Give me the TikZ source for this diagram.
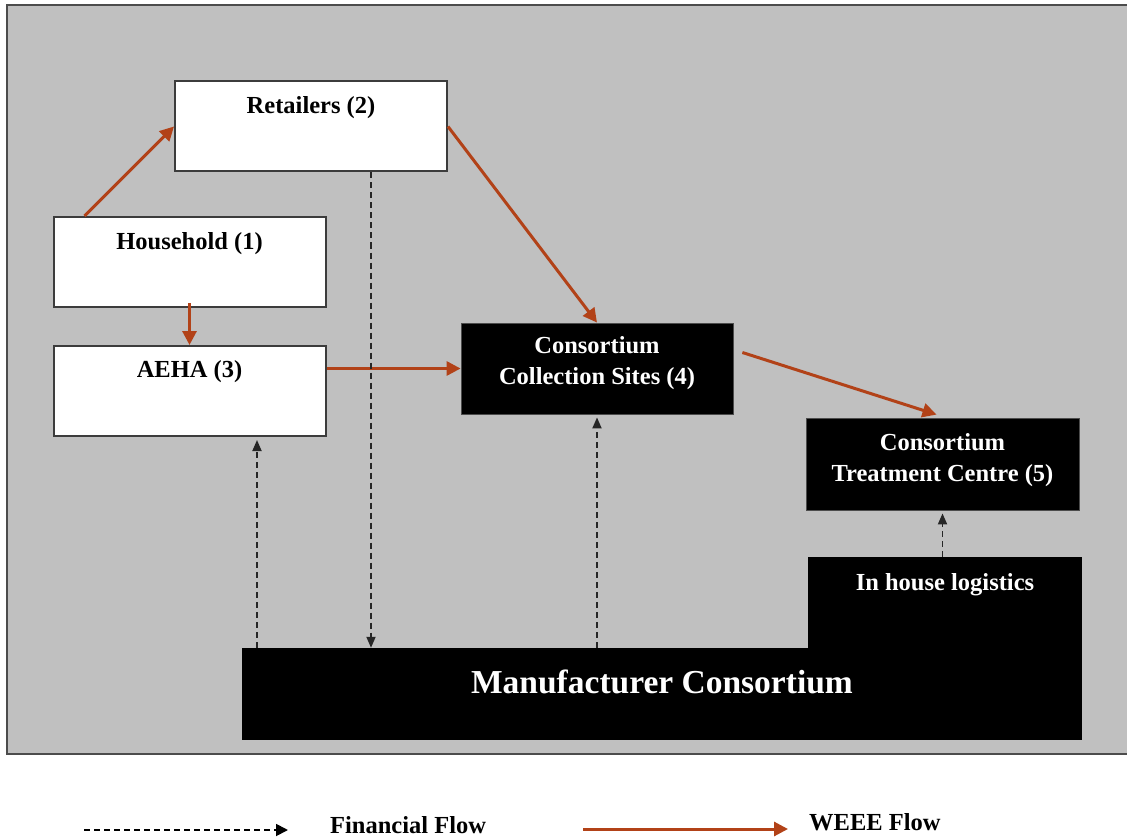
\documentclass[tikz,border=0pt]{standalone}
\usepackage{fontspec}
\setmainfont{Liberation Serif}
\usetikzlibrary{arrows.meta}
\definecolor{weee}{RGB}{178,66,24}
\definecolor{panel}{RGB}{192,192,192}
\definecolor{edge}{RGB}{60,60,60}
\begin{document}
\begin{tikzpicture}[x=1pt,y=-1pt,
  txt/.style={font=\fontsize{24.5}{31}\selectfont\bfseries, inner sep=0pt, align=center},
  bigtxt/.style={font=\fontsize{33.5}{40}\selectfont\bfseries, inner sep=0pt, text=white},
  wbox/.style={draw=edge, line width=2pt, fill=white, minimum width=272pt, minimum height=90pt, inner sep=0pt},
  bbox/.style={draw=black!70, line width=0.8pt, fill=black, inner sep=0pt},
  weeeflow/.style={draw=weee, line width=3pt, -{Triangle[length=14pt,width=14pt]}},
  finflow/.style={draw=black!85, line width=1.8pt, dash pattern=on 6pt off 4pt, -{Triangle[length=11pt,width=9pt]}}]
\useasboundingbox (0,0) rectangle (1127,837);
\fill[white] (0,0) rectangle (1127,837);
% grey panel, open on the right
\begin{scope}
\clip (0,0) rectangle (1127,837);
\draw[fill=panel, draw=black!70, line width=2.6pt] (7,5) rectangle (1140,754);
\end{scope}

% white stakeholder boxes
\node[wbox] (ret) at (311,126.5) {};
\node[wbox] (hh) at (189.5,262) {};
\node[wbox] (aeha) at (189.5,391) {};
\path (ret.north) ++(0,27) node[txt] {Retailers (2)};
\path (hh.north) ++(0,28) node[txt] {Household (1)};
\path (aeha.north) ++(0,27) node[txt] {AEHA (3)};

% consortium boxes
\node[bbox, minimum width=272pt, minimum height=91pt] (coll) at (597,368.5) {};
\node[txt, text=white] at (597,363.5) {Consortium\\Collection Sites (4)};
\node[bbox, minimum width=273pt, minimum height=92pt] (treat) at (942.5,464) {};
\node[txt, text=white] at (942.5,460) {Consortium\\Treatment Centre (5)};

% manufacturer consortium with its logistics arm
\node[fill=black, minimum width=274pt, minimum height=93pt, inner sep=0pt] (inh) at (945,603.5) {};
\node[fill=black, minimum width=840pt, minimum height=92pt, inner sep=0pt] (mfr) at (662,694) {};
\path (inh.north) ++(0,28) node[txt, text=white] {In house logistics};
\node[bigtxt] at (662,682) {Manufacturer Consortium};

% WEEE flows
\draw[weeeflow] ([xshift=32pt]hh.north west) -- (ret.west);
\draw[weeeflow] ([yshift=5pt]hh.south) -- (aeha.north);
\draw[weeeflow] (ret.east) -- (coll.north);
\draw[weeeflow] (aeha.east |- coll.west) -- (coll.west);
\draw[weeeflow] ([shift={(9pt,16pt)}]coll.east) -- ([xshift=-6pt,yshift=3pt]treat.north);

% financial flows
\coordinate (fa) at (257,0);
\coordinate (fr) at (371,0);
\draw[finflow] (ret.south -| fr) -- (mfr.north -| fr);
\draw[finflow] (mfr.north -| fa) -- ([yshift=-3pt]aeha.south -| fa);
\draw[finflow] (mfr.north -| coll.south) -- ([yshift=-3pt]coll.south);
\draw[finflow] (inh.north -| treat.south) -- ([yshift=-3pt]treat.south);

% legend
\coordinate (lf1) at (84,830);
\coordinate (lf2) at (288,830);
\coordinate (lw1) at (583,829);
\coordinate (lw2) at (788,829);
\draw[draw=black, line width=1.8pt, dash pattern=on 6pt off 4pt, -{Triangle[length=12pt,width=12pt]}] (lf1) -- (lf2);
\draw[weeeflow] (lw1) -- (lw2);
\node[txt, anchor=west] (lfin) at (330,825) {Financial Flow};
\node[txt, anchor=west] (lweee) at (809,822) {WEEE Flow};
\end{tikzpicture}
\end{document}
